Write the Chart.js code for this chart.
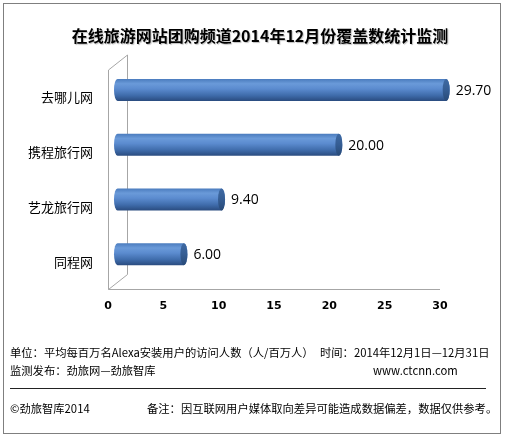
<!DOCTYPE html>
<html><head><meta charset="utf-8">
<script src="https://cdn.jsdelivr.net/npm/chart.js@4"></script>
<style>
html,body{margin:0;padding:0;background:#fff;}
#wrap{position:relative;width:506px;height:440px;overflow:hidden;}
#frame{position:absolute;left:3px;top:3px;width:498px;height:431px;border:1px solid #7f7f7f;box-sizing:border-box;}
canvas{position:absolute;left:0;top:0;}
.t{position:absolute;white-space:nowrap;font-family:"Noto Sans CJK SC","Noto Sans",sans-serif;color:#000;line-height:16px;transform:translateY(-50%);}
#title{left:0;width:520px;text-align:center;top:35px;font-size:16px;font-weight:bold;line-height:20px;text-shadow:1px 1px 1px rgba(0,0,0,0.25);}
.f{font-size:11.3px;}
#rule{position:absolute;left:10px;top:388px;width:476px;height:0;border-top:1px solid #222;}
</style></head>
<body>
<div id="wrap">
<canvas id="c" width="506" height="440"></canvas>
<div id="frame"></div>
<div class="t" id="title">在线旅游网站团购频道2014年12月份覆盖数统计监测</div>
<div class="t f" style="left:10px;top:352px;">单位：平均每百万名Alexa安装用户的访问人数（人/百万人）</div>
<div class="t f" style="left:320px;top:352px;">时间：2014年12月1日—12月31日</div>
<div class="t f" style="left:10px;top:370px;">监测发布：劲旅网—劲旅智库</div>
<div class="t f" style="left:373px;top:370px;">www.ctcnn.com</div>
<div id="rule"></div>
<div class="t f" style="left:10px;top:408px;">©劲旅智库2014</div>
<div class="t f" style="left:147px;top:408px;">备注：因互联网用户媒体取向差异可能造成数据偏差，数据仅供参考。</div>
</div>
<script>
const categories = ['去哪儿网','携程旅行网','艺龙旅行网','同程网'];
const coverage = [29.70, 20.00, 9.40, 6.00];
const xTicks = [0, 5, 10, 15, 20, 25, 30];

const DEPTH_X = 19, DEPTH_Y = -15;

const cylPlugin = {
  id: 'cyl',
  beforeDatasetsDraw(chart) {
    const {ctx, chartArea: a} = chart;
    ctx.save();
    ctx.strokeStyle = '#a6a6a6';
    ctx.lineWidth = 1;
    ctx.beginPath();
    const L = Math.round(a.left) + 0.5, T = a.top, B = Math.round(a.bottom) + 0.5, R = a.right;
    // front left edge
    ctx.moveTo(L, T); ctx.lineTo(L, B);
    // back wall edge
    ctx.moveTo(L + DEPTH_X, T + DEPTH_Y); ctx.lineTo(L + DEPTH_X, B + DEPTH_Y);
    // slants
    ctx.moveTo(L, T); ctx.lineTo(L + DEPTH_X, T + DEPTH_Y);
    ctx.moveTo(L, B); ctx.lineTo(L + DEPTH_X, B + DEPTH_Y);
    // floor front edge
    ctx.moveTo(L, B); ctx.lineTo(R, B);
    ctx.stroke();
    ctx.restore();
  },
  afterDatasetsDraw(chart) {
    const ctx = chart.ctx;
    const meta = chart.getDatasetMeta(0);
    const vals = chart.data.datasets[0].data;
    meta.data.forEach((el, i) => {
      const p = el.getProps(['x', 'y', 'base', 'height'], true);
      const dx = DEPTH_X / 2, dy = DEPTH_Y / 2;
      const x0 = p.base + dx, x1 = p.x + dx, cy = p.y + dy;
      const ry = p.height / 2, rx = 3.5;
      ctx.save();
      const g = ctx.createLinearGradient(0, cy - ry, 0, cy + ry);
      g.addColorStop(0, '#4a7bbd');
      g.addColorStop(0.22, '#6a9ad9');
      g.addColorStop(0.45, '#5b8bcf');
      g.addColorStop(0.75, '#3f6cab');
      g.addColorStop(1, '#2a4c80');
      ctx.fillStyle = g;
      ctx.beginPath();
      ctx.moveTo(x0, cy - ry);
      ctx.lineTo(x1, cy - ry);
      ctx.ellipse(x1, cy, rx, ry, 0, -Math.PI / 2, Math.PI / 2);
      ctx.lineTo(x0, cy + ry);
      ctx.ellipse(x0, cy, rx, ry, 0, Math.PI / 2, Math.PI * 1.5);
      ctx.closePath();
      ctx.fill();
      const g2 = ctx.createLinearGradient(0, cy - ry, 0, cy + ry);
      g2.addColorStop(0, '#3f6aa3');
      g2.addColorStop(0.5, '#355d93');
      g2.addColorStop(1, '#284a78');
      ctx.fillStyle = g2;
      ctx.beginPath();
      ctx.ellipse(x1, cy, rx, ry, 0, 0, Math.PI * 2);
      ctx.fill();
      ctx.fillStyle = '#000';
      ctx.font = '14px "Open Sans", "Liberation Sans", sans-serif';
      ctx.textAlign = 'left';
      ctx.textBaseline = 'middle';
      ctx.fillText(vals[i].toFixed(2), x1 + rx + 6, cy + 1);
      ctx.restore();
    });
  }
};

new Chart(document.getElementById('c'), {
  type: 'bar',
  data: {
    labels: categories,
    datasets: [{
      data: coverage,
      backgroundColor: 'rgba(0,0,0,0)',
      borderWidth: 0,
      barThickness: 22
    }]
  },
  options: {
    indexAxis: 'y',
    responsive: false,
    animation: false,
    devicePixelRatio: 1,
    layout: {padding: {left: 0, right: 66, top: 70, bottom: 121}},
    plugins: {legend: {display: false}, tooltip: {enabled: false}},
    scales: {
      x: {
        min: xTicks[0], max: xTicks[xTicks.length - 1],
        afterBuildTicks(s) { s.ticks = xTicks.map(v => ({value: v})); },
        afterFit(s) { s.height = 30; },
        grid: {display: false, drawTicks: false},
        border: {display: false},
        ticks: {color: '#000', padding: 11, font: {family: '"DejaVu Sans", sans-serif', size: 11, weight: 'bold'}}
      },
      y: {
        afterFit(s) { s.width = 108; },
        grid: {display: false, drawTicks: false},
        border: {display: false},
        ticks: {color: '#000', padding: 15, font: {family: '"Noto Sans CJK SC", sans-serif', size: 13}}
      }
    }
  },
  plugins: [cylPlugin]
});
</script>
</body></html>
